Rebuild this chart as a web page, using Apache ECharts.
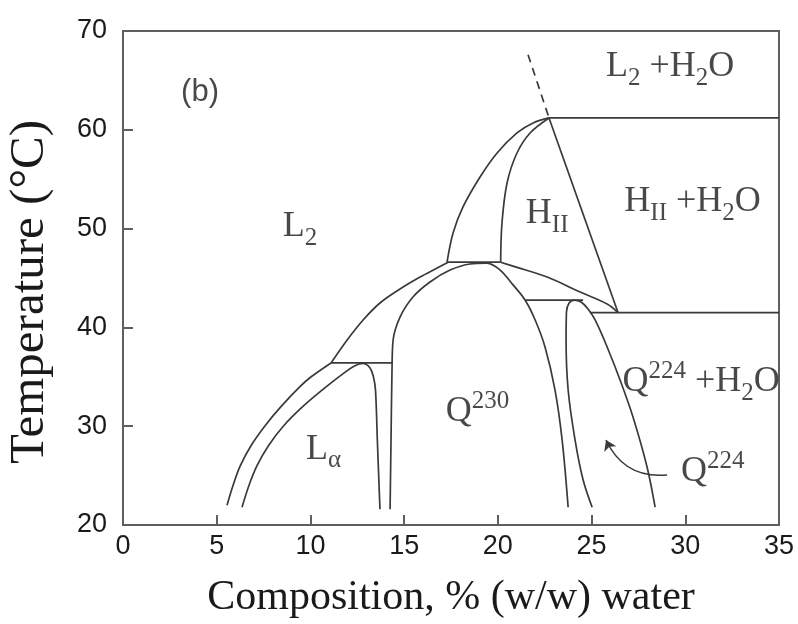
<!DOCTYPE html>
<html><head><meta charset="utf-8">
<script src="https://cdn.jsdelivr.net/npm/echarts@6/dist/echarts.min.js"></script>
<style>html,body{margin:0;padding:0;background:#fff}#c{width:798px;height:624px}</style>
</head><body><div id="c"></div>
<script>
// ---- phase-boundary curves, [composition % w/w water, temperature °C] ----
const lamellarOuter = [[5.55,22.0],[5.87,24.0],[6.26,26.0],[6.82,28.0],[7.56,30.0],[8.44,32.0],[9.44,34.0],[10.04,35.0],[11.1,36.4]];
const lamellarInner = [[6.35,21.8],[6.72,24.0],[7.15,26.0],[7.75,28.0],[8.55,30.0],[9.6,32.0],[10.85,34.0],[11.8,35.4],[12.35,36.1],[12.8,36.35],[13.18,35.9],[13.36,35.0],[13.47,33.7],[13.57,28.6],[13.71,21.6]];
const lamellarTie = [[11.1,36.4],[14.35,36.4]];
const l2DomeLeft = [[11.1,36.4],[11.95,38.7],[12.81,40.75],[13.71,42.47],[14.78,43.89],[15.85,45.1],[16.76,46.0],[17.35,46.6]];
const cubicTie = [[17.29,46.6],[20.15,46.6]];
const hexOuter = [[17.29,46.6],[17.61,49.55],[18.14,52.19],[19.05,55.22],[19.96,57.65],[21.02,59.68],[21.88,60.69],[22.73,61.2]];
const hexInner = [[20.15,46.6],[20.22,50.57],[20.49,54.62],[21.02,57.65],[21.72,59.68],[22.73,61.2]];
const hexRight = [[22.73,61.2],[26.41,41.5]];
const hexDashed = [[21.61,67.6],[22.73,61.2]];
const topTie = [[22.73,61.2],[35,61.2]];
const hexLower = [[20.15,46.6],[20.81,46.2],[22.63,45.1],[24.39,43.58],[25.83,42.37],[26.41,41.5]];
const q230Dome = [[14.25,21.6],[14.3,28.6],[14.35,35.4],[14.41,38.7],[14.78,41.05],[15.47,43.08],[16.38,44.6],[17.45,45.8],[18.52,46.42],[19.42,46.5],[20.12,45.8],[20.81,44.3],[21.45,42.77],[21.99,40.75],[22.52,38.0],[23.05,33.66],[23.43,28.6],[23.75,21.8]];
const midTie = [[21.45,42.77],[24.55,42.77]];
const q224Bubble = [[25.03,21.8],[24.55,24.55],[24.12,28.6],[23.75,33.66],[23.64,38.72],[23.66,41.56],[23.8,42.47],[24.07,42.77],[24.44,42.57],[24.81,41.86],[25.19,40.75],[25.83,38.02],[26.52,34.68],[27.21,30.93],[27.96,25.87],[28.39,21.8]];
const lowTie = [[24.92,41.5],[35,41.5]];
const arrowPath = [[29.03,25.06],[25.77,28.6]];

// ---- region labels ----
const labelTexts = ['{s|(b)}','{b|L}{sub|2}','{b|L}{sub|α}','{b|Q}{sup|230}','{b|H}{sub|II}','{b|L}{sub|2}{b| +H}{sub|2}{b|O}','{b|H}{sub|II}{b| +H}{sub|2}{b|O}','{b|Q}{sup|224}{b| +H}{sub|2}{b|O}','{b|Q}{sup|224}'];
const labelX = [4.11, 9.45, 10.7, 18.92, 22.63, 29.19, 30.39, 30.84, 31.46];
const labelY = [63.83, 50.16, 27.6, 31.44, 51.48, 66.36, 52.69, 34.47, 25.36];

const xMin = 0, xMax = 35, xStep = 5;
const yMin = 20, yMax = 70, yStep = 10;

const LINE = '#3a3a3a';
const AX = '#5f5f5f';
const SERIF = '"Liberation Serif", "DejaVu Serif", serif';
const SANS = '"Liberation Sans", Arial, sans-serif';

function curve(data, smooth, extra) {
  return Object.assign({
    type: 'line', data: data, smooth: smooth, symbol: 'none', showSymbol: false,
    silent: true, animation: false, z: 3,
    lineStyle: { color: LINE, width: 1.7 }
  }, extra || {});
}

const chart = echarts.init(document.getElementById('c'), null, { renderer: 'canvas' });
chart.setOption({
  backgroundColor: '#fff',
  animation: false,
  grid: { left: 123, right: 19, top: 31, bottom: 99, containLabel: false, outerBoundsMode: 'none', show: true, borderColor: AX, borderWidth: 2, backgroundColor: 'transparent' },
  xAxis: {
    type: 'value', min: xMin, max: xMax, interval: xStep,
    axisLine: { show: true, onZero: false, lineStyle: { color: AX, width: 2 } },
    axisTick: { show: true, inside: true, length: 10, lineStyle: { color: AX, width: 2 } },
    splitLine: { show: false },
    axisLabel: { fontFamily: SANS, fontSize: 27, color: '#1a1a1a', margin: 8 },
    name: 'Composition, % (w/w) water', nameLocation: 'middle', nameGap: 52,
    nameTextStyle: { fontFamily: SERIF, fontSize: 42, color: '#1a1a1a' }
  },
  yAxis: {
    type: 'value', min: yMin, max: yMax, interval: yStep,
    axisLine: { show: true, onZero: false, lineStyle: { color: AX, width: 2 } },
    axisTick: { show: true, inside: true, length: 10, lineStyle: { color: AX, width: 2 } },
    splitLine: { show: false },
    axisLabel: { fontFamily: SANS, fontSize: 27, color: '#1a1a1a', margin: 16 },
    name: 'Temperature (°C)', nameLocation: 'middle', nameGap: 68,
    nameTextStyle: { fontFamily: SERIF, fontSize: 49, color: '#1a1a1a', padding: [0, 28, 0, 0] }
  },
  series: [
    curve(lamellarOuter, 0.35),
    curve(lamellarInner, 0.35),
    curve(lamellarTie, false),
    curve(l2DomeLeft, 0.35),
    curve(cubicTie, false),
    curve(hexOuter, 0.35),
    curve(hexInner, 0.35),
    curve(hexRight, false),
    curve(hexDashed, false, { lineStyle: { color: LINE, width: 1.7, type: [8, 6] } }),
    curve(topTie, false),
    curve(hexLower, 0.35),
    curve(q230Dome, 0.35),
    curve(midTie, false),
    curve(q224Bubble, 0.35),
    curve(lowTie, false),
    {
      type: 'lines', coordinateSystem: 'cartesian2d', silent: true, animation: false, z: 4,
      symbol: ['none', 'arrow'], symbolSize: 10,
      lineStyle: { color: LINE, width: 1.5, curveness: 0.35, opacity: 1 },
      data: [{ coords: arrowPath }]
    },
    {
      type: 'scatter', silent: true, animation: false, symbolSize: 0, z: 5,
      data: labelX.map(function (x, i) { return { value: [x, labelY[i]], label: { formatter: labelTexts[i] } }; }),
      label: {
        show: true, position: 'inside', align: 'center', verticalAlign: 'middle',
        rich: {
          s: { fontFamily: SANS, fontSize: 31, color: '#1a1a1a' },
          b: { fontFamily: SERIF, fontSize: 36, color: '#1a1a1a' },
          sub: { fontFamily: SERIF, fontSize: 25, color: '#1a1a1a', padding: [22, 0, 0, 0] },
          sup: { fontFamily: SERIF, fontSize: 25, color: '#1a1a1a', padding: [0, 0, 22, 0] }
        }
      }
    }
  ]
});
</script></body></html>
